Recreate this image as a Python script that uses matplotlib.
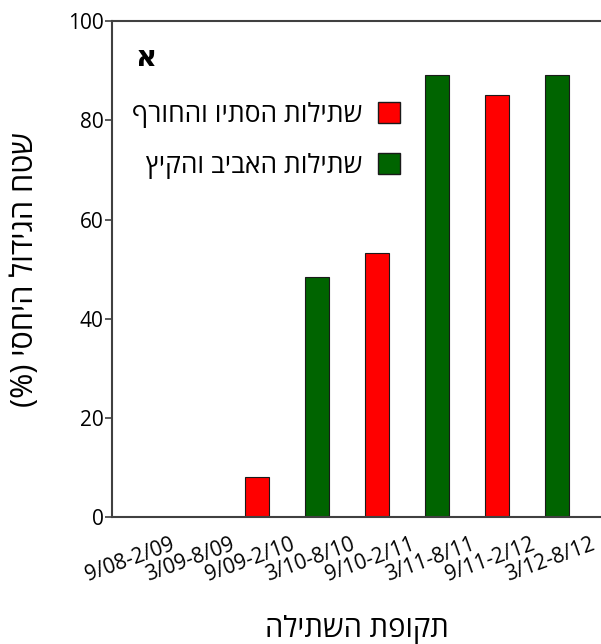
import matplotlib
matplotlib.use('Agg')
import matplotlib.pyplot as plt
from matplotlib.patches import Patch
from matplotlib.transforms import ScaledTranslation

plt.rcParams['font.family'] = ['Open Sans', 'DejaVu Sans']

periods = ['9/08-2/09', '3/09-8/09', '9/09-2/10', '3/10-8/10',
           '9/10-2/11', '3/11-8/11', '9/11-2/12', '3/12-8/12']
growth = [0, 0, 8, 48.5, 53.3, 89.2, 85.2, 89.2]
season = ['fall', 'spring', 'fall', 'spring', 'fall', 'spring', 'fall', 'spring']
colors = {'fall': '#ff0000', 'spring': '#006400'}

fall_label = 'שתילות הסתיו והחורף'
spring_label = 'שתילות האביב והקיץ'
x_title = 'תקופת השתילה'
y_title = 'שטח הגידול היחסי (%)'
panel = 'א'


def visual(s):
    # matplotlib has no bidi support: reverse and mirror brackets
    swap = {'(': ')', ')': '('}
    return ''.join(swap.get(c, c) for c in s[::-1])


fig = plt.figure(figsize=(6.01, 6.44), dpi=100)
ax = fig.add_axes([0.1864, 0.197, 0.8136, 0.770])

xs = range(len(periods))
ax.bar(xs, growth, width=0.4, color=[colors[s] for s in season],
       edgecolor='#1a1a1a', linewidth=0.8)

ax.set_ylim(0, 100)
ax.set_xlim(-0.42, 7.73)
ax.set_yticks([0, 20, 40, 60, 80, 100])
ax.tick_params(axis='y', length=5, width=1.2, color='#404040',
               labelsize=15, pad=1)
ax.tick_params(axis='x', length=0, labelsize=15, pad=12)
ax.set_xticks(list(xs))
ax.set_xticklabels(periods, rotation=20, ha='right', rotation_mode='anchor')
offset = ScaledTranslation(0.33, 0, fig.dpi_scale_trans)
for lab in ax.get_xticklabels():
    lab.set_transform(lab.get_transform() + offset)

for side in ['left', 'bottom', 'top']:
    ax.spines[side].set_color('#404040')
    ax.spines[side].set_linewidth(1.5)
ax.spines['right'].set_visible(False)

ax.set_xlabel(visual(x_title), fontsize=21, labelpad=21)
ax.set_ylabel(visual(y_title), fontsize=22, labelpad=20)

ax.text(0.07, 0.925, panel, transform=ax.transAxes, fontsize=21,
        fontweight='bold', ha='center', va='center')

handles = [Patch(facecolor=colors['fall'], edgecolor='#1a1a1a'),
           Patch(facecolor=colors['spring'], edgecolor='#1a1a1a')]
ax.legend(handles, [visual(fall_label), visual(spring_label)],
          loc='upper right', bbox_to_anchor=(0.589, 0.838),
          frameon=False, markerfirst=False, fontsize=19,
          handlelength=0.85, handleheight=0.85, handletextpad=0.6,
          labelspacing=0.95, borderpad=0, borderaxespad=0)

fig.savefig('out.png', dpi=100)
